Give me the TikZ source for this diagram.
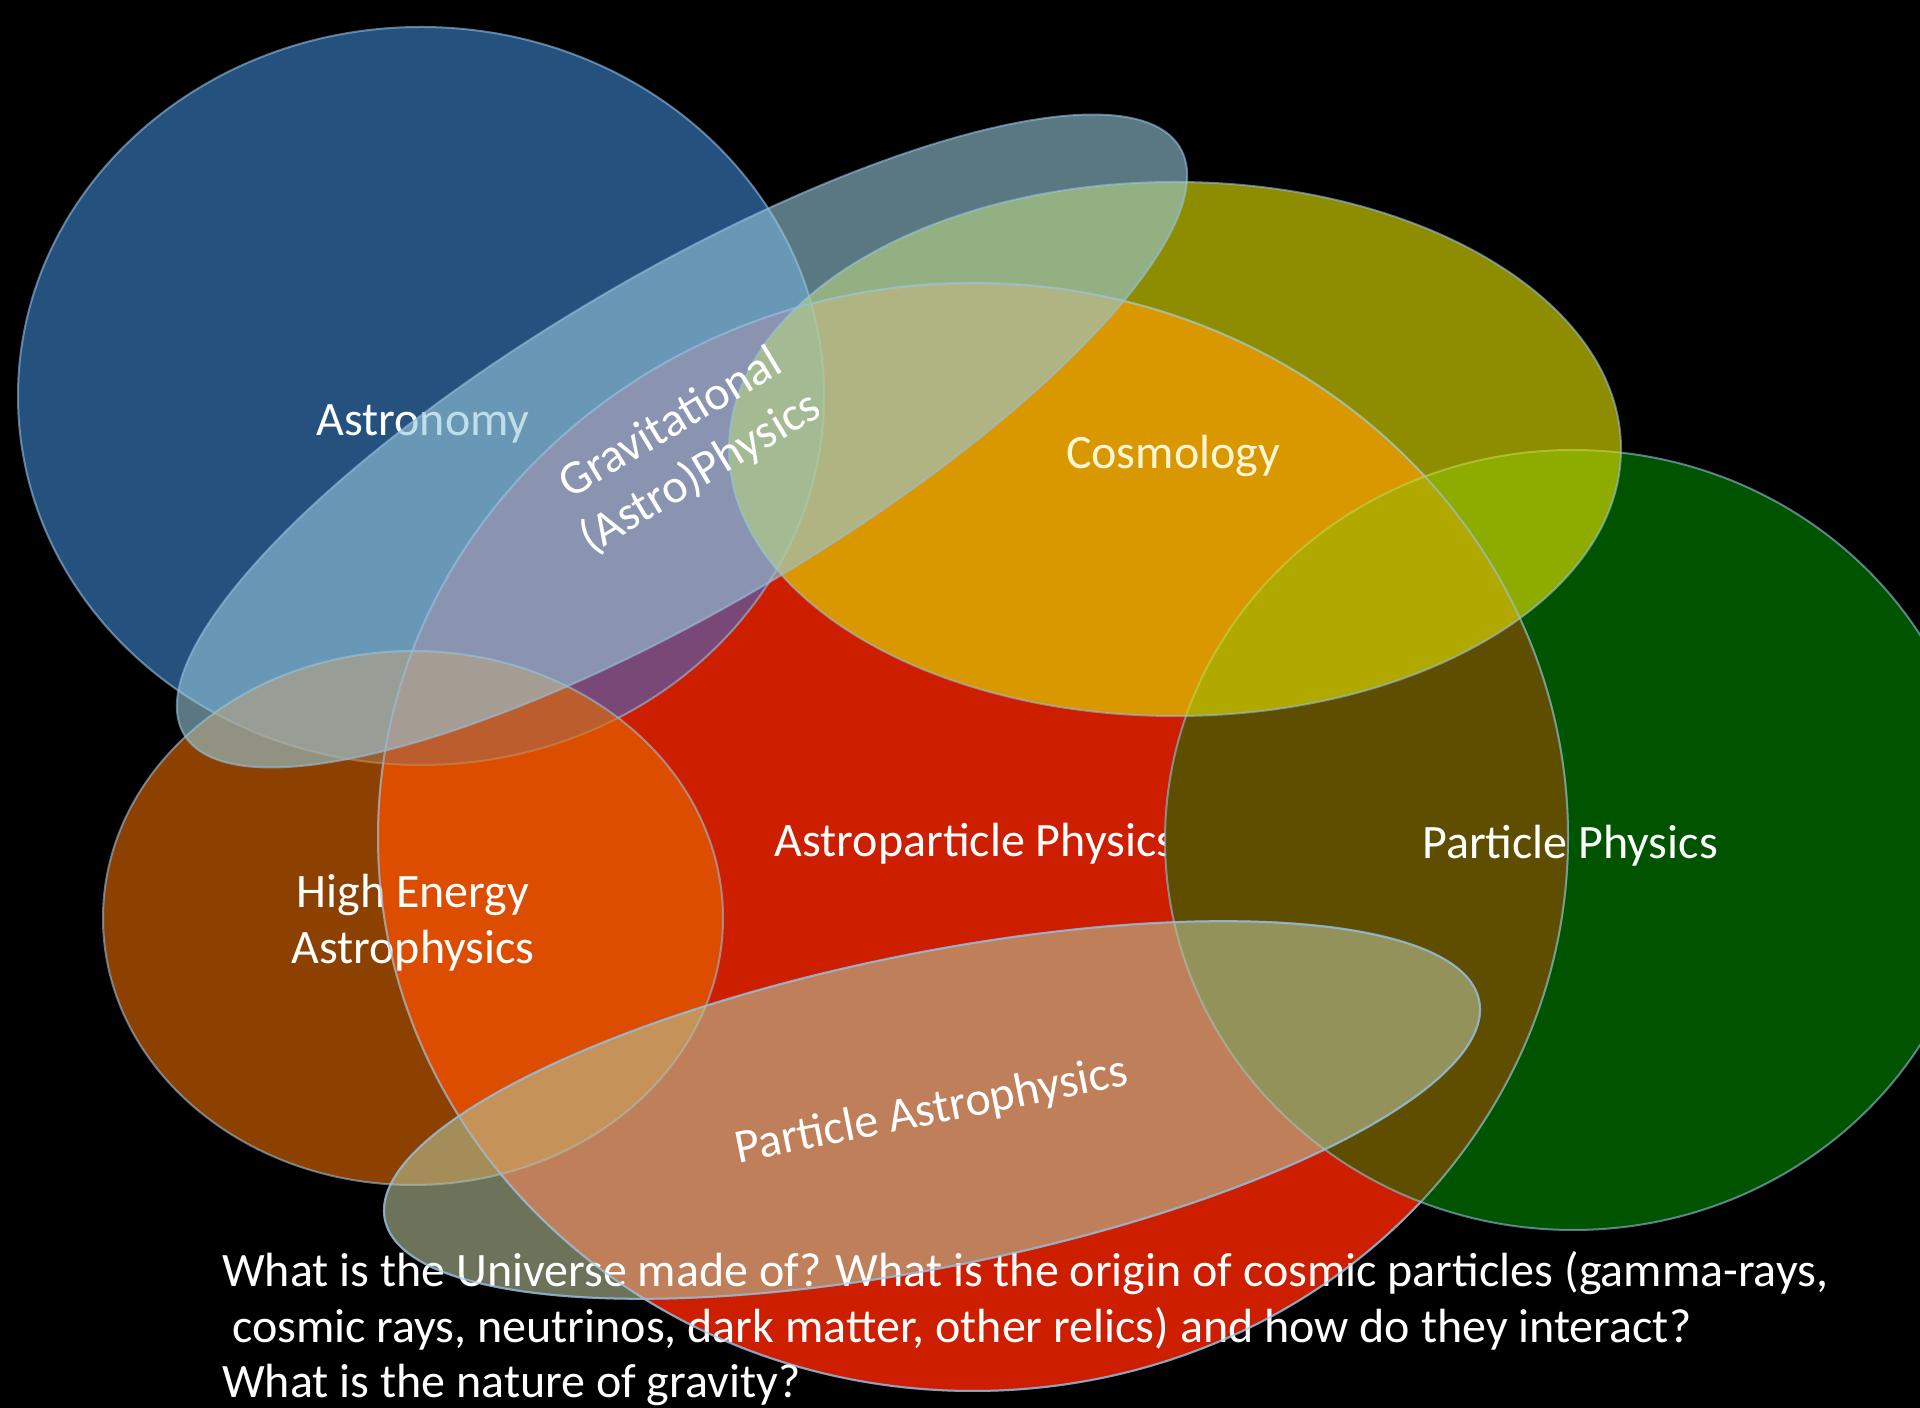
\documentclass[tikz,border=0pt]{standalone}
\usepackage{fontspec}
\setmainfont{Carlito}
\definecolor{redc}{RGB}{205,30,0}
\definecolor{astroc}{RGB}{60,132,206}
\definecolor{purplec}{RGB}{122,72,118}
\definecolor{hec}{RGB}{230,107,0}
\definecolor{greenc}{RGB}{0,157,0}
\definecolor{brownc}{RGB}{95,78,0}
\definecolor{cosmoc}{RGB}{225,222,0}
\definecolor{gravc}{RGB}{150,200,217}
\definecolor{pac}{RGB}{183,192,150}
\definecolor{edgeblue}{RGB}{150,190,225}
\definecolor{creamc}{RGB}{255,246,212}
\begin{document}
\begin{tikzpicture}[x=1pt,y=1pt,
  venn/.style={draw=edgeblue, line width=2pt, draw opacity=0.6},
  rim/.style={draw=edgeblue, line width=2pt, draw opacity=0.6},
  lbl/.style={text=white, font=\fontsize{48}{56}\selectfont, inner sep=0pt},
  qtext/.style={text=white, font=\fontsize{48}{56}\selectfont, inner sep=0pt, anchor=base west},
]
\useasboundingbox (0,0) rectangle (1920,1408);
\fill[black] (0,0) rectangle (1920,1408);
\clip (0,0) rectangle (1920,1408);

% Astroparticle Physics (red)
\path[venn, fill=redc] (973,571) ellipse [x radius=595, y radius=554];
% Astronomy
\path[fill=astroc, fill opacity=0.62] (421,1012) ellipse [x radius=403, y radius=369];
\begin{scope}
  \clip (973,571) ellipse [x radius=595, y radius=554];
  \fill[purplec] (421,1012) ellipse [x radius=403, y radius=369];
\end{scope}
\path[rim] (421,1012) ellipse [x radius=403, y radius=369];
% High Energy Astrophysics
\path[venn, fill=hec, fill opacity=0.61] (413,490) ellipse [x radius=310, y radius=267];
\node[lbl, anchor=base] (ap) at (975,551) {Astroparticle Physics};
% Particle Physics (green)
\path[fill=greenc, fill opacity=0.54] (1573,568) ellipse [x radius=408, y radius=390];
\begin{scope}
  \clip (973,571) ellipse [x radius=595, y radius=554];
  \fill[brownc] (1573,568) ellipse [x radius=408, y radius=390];
\end{scope}
\path[rim] (1573,568) ellipse [x radius=408, y radius=390];
% Cosmology
\path[venn, fill=cosmoc, fill opacity=0.63] (1175,959) ellipse [x radius=446, y radius=267];

\node[lbl, anchor=base] (astro) at (423,972) {Astronomy};
\node[lbl, anchor=base, text=creamc] (cosmo) at (1173,939) {Cosmology};
\node[lbl, anchor=base] (pp) at (1570,549) {Particle Physics};
\node[lbl, anchor=base] (he1) at (413,500) {High Energy};
\node[lbl, anchor=base] (he2) at (413,444) {Astrophysics};

% Gravitational (Astro)Physics
\path[venn, fill=gravc, fill opacity=0.6, rotate around={30.5:(682,967)}] (682,967) ellipse [x radius=578, y radius=166];
\node[lbl, align=center, rotate=31, font=\fontsize{48}{58}\selectfont] (grav) at (686,959) {Gravitational\\(Astro)Physics};

% Particle Astrophysics
\path[venn, fill=pac, fill opacity=0.6, rotate around={11.3:(932,298)}] (932,298) ellipse [x radius=558, y radius=157];
\node[lbl, anchor=base, rotate=11.3] (pa) at (934,284) {Particle Astrophysics};

% question text
\node[qtext] (q1) at (222,121) {What is the Universe made of? What is the origin of cosmic particles (gamma-rays,};
\node[qtext] (q2) at (232,65) {cosmic rays, neutrinos, dark matter, other relics) and how do they interact?};
\node[qtext] (q3) at (222,10) {What is the nature of gravity?};

% outlines crossing the text
\path[rim] (973,571) ellipse [x radius=595, y radius=554];
\path[rim, rotate around={11.3:(932,298)}] (932,298) ellipse [x radius=558, y radius=157];
\end{tikzpicture}
\end{document}
